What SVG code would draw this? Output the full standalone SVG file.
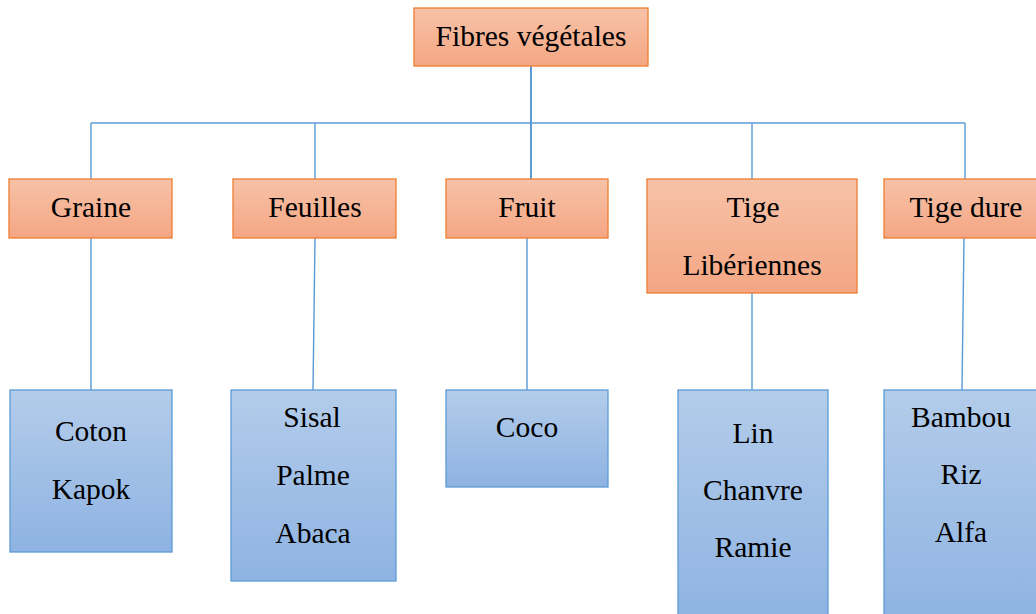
<svg xmlns="http://www.w3.org/2000/svg" width="1036" height="614" viewBox="0 0 1036 614" font-family="Liberation Serif, serif">
<defs>
<linearGradient id="og" x1="0" y1="0" x2="0" y2="1"><stop offset="0" stop-color="#F7C2A8"/><stop offset="1" stop-color="#F4A683"/></linearGradient>
<linearGradient id="bg" x1="0" y1="0" x2="0" y2="1"><stop offset="0" stop-color="#B3CCEA"/><stop offset="1" stop-color="#8EB3E2"/></linearGradient>
<style>
.o{fill:url(#og);stroke:#ED7D31;stroke-width:1.3}
.b{fill:url(#bg);stroke:#5B9BD5;stroke-width:1.3}
.t{font-size:29.5px;fill:#000;text-anchor:middle}
.c{stroke:#5B9BD5;stroke-width:1.4;fill:none}
</style>
</defs>
<rect width="1036" height="614" fill="#fff"/>
<g id="connectors">
<line class="c" x1="531" y1="66" x2="531" y2="179" style="stroke-width:2"/>
<line class="c" x1="91" y1="123" x2="965" y2="123"/>
<line class="c" x1="91" y1="123" x2="91" y2="179"/>
<line class="c" x1="315" y1="123" x2="315" y2="179"/>
<line class="c" x1="752" y1="123" x2="752" y2="179"/>
<line class="c" x1="965" y1="123" x2="965" y2="179"/>
<line class="c" x1="91" y1="238" x2="91" y2="390"/>
<line class="c" x1="315" y1="238" x2="313" y2="390"/>
<line class="c" x1="527" y1="238" x2="527" y2="390"/>
<line class="c" x1="752" y1="293" x2="752" y2="390"/>
<line class="c" x1="964" y1="238" x2="962" y2="390"/>
</g>
<g id="n-root"><rect class="o" x="414" y="8" width="234" height="58"/><text class="t" font-family="Liberation Serif" x="531" y="46">Fibres végétales</text></g>
<g id="n-graine"><rect class="o" x="9" y="179" width="163" height="59"/><text class="t" font-family="Liberation Serif" x="91" y="217">Graine</text></g>
<g id="n-feuilles"><rect class="o" x="233" y="179" width="163" height="59"/><text class="t" font-family="Liberation Serif" x="315" y="217">Feuilles</text></g>
<g id="n-fruit"><rect class="o" x="446" y="179" width="162" height="59"/><text class="t" font-family="Liberation Serif" x="527" y="217">Fruit</text></g>
<g id="n-tige"><rect class="o" x="647" y="179" width="210" height="114"/><text class="t" font-family="Liberation Serif" x="753" y="217">Tige</text><text class="t" font-family="Liberation Serif" x="752" y="275">Libériennes</text></g>
<g id="n-tigedure"><rect class="o" x="884" y="179" width="160" height="59"/><text class="t" font-family="Liberation Serif" x="966" y="217">Tige dure</text></g>
<g id="n-coton"><rect class="b" x="10" y="390" width="162" height="162"/><text class="t" font-family="Liberation Serif" x="91" y="441">Coton</text><text class="t" font-family="Liberation Serif" x="91" y="499">Kapok</text></g>
<g id="n-sisal"><rect class="b" x="231" y="390" width="165" height="191"/><text class="t" font-family="Liberation Serif" x="312" y="427">Sisal</text><text class="t" font-family="Liberation Serif" x="313" y="485">Palme</text><text class="t" font-family="Liberation Serif" x="313" y="543">Abaca</text></g>
<g id="n-coco"><rect class="b" x="446" y="390" width="162" height="97"/><text class="t" font-family="Liberation Serif" x="527" y="437">Coco</text></g>
<g id="n-lin"><rect class="b" x="678" y="390" width="150" height="230"/><text class="t" font-family="Liberation Serif" x="753" y="443">Lin</text><text class="t" font-family="Liberation Serif" x="753" y="500">Chanvre</text><text class="t" font-family="Liberation Serif" x="753" y="557">Ramie</text></g>
<g id="n-bambou"><rect class="b" x="884" y="390" width="160" height="230"/><text class="t" font-family="Liberation Serif" x="961" y="427">Bambou</text><text class="t" font-family="Liberation Serif" x="961" y="484">Riz</text><text class="t" font-family="Liberation Serif" x="961" y="542">Alfa</text></g>
</svg>
